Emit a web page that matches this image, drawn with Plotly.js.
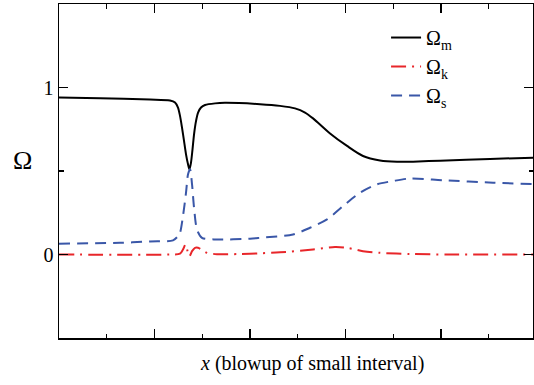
<!DOCTYPE html>
<html>
<head>
<meta charset="utf-8">
<script src="https://cdn.plot.ly/plotly-3.0.1.min.js"></script>
<style>
html,body{margin:0;padding:0;background:#fff;}
#chart{width:534px;height:385px;}
#chart text, #chart tspan { font-family: "Liberation Serif", "DejaVu Serif", serif !important; }
</style>
</head>
<body>
<div id="chart"></div>
<script>
// x in units of major tick spacing
const xM = [0, 0.43, 0.953, 1.162, 1.215, 1.246, 1.267, 1.288, 1.309, 1.330, 1.351, 1.366, 1.382, 1.398, 1.414, 1.435, 1.456, 1.487, 1.529, 1.634, 1.738, 2.105, 2.314, 2.471, 2.576, 2.660, 2.838, 3.016, 3.183, 3.361, 3.539, 3.707, 3.990, 4.513, 4.963];
const omegaM = [0.94, 0.935, 0.928, 0.922, 0.91, 0.88, 0.83, 0.76, 0.68, 0.60, 0.54, 0.51, 0.55, 0.63, 0.72, 0.80, 0.85, 0.88, 0.895, 0.905, 0.908, 0.90, 0.89, 0.875, 0.85, 0.815, 0.725, 0.65, 0.59, 0.563, 0.555, 0.556, 0.562, 0.572, 0.58];

const xS = [0, 0.639, 0.953, 1.194, 1.246, 1.267, 1.298, 1.330, 1.351, 1.372, 1.393, 1.414, 1.445, 1.497, 1.654, 2.000, 2.105, 2.450, 2.628, 2.806, 2.974, 3.152, 3.330, 3.497, 3.675, 4.021, 4.545, 4.963];
const omegaS = [0.065, 0.07, 0.078, 0.085, 0.11, 0.13, 0.23, 0.37, 0.48, 0.51, 0.42, 0.28, 0.15, 0.10, 0.09, 0.095, 0.10, 0.12, 0.16, 0.21, 0.29, 0.37, 0.42, 0.44, 0.455, 0.445, 0.43, 0.422];

const xK = [0, 1.162, 1.267, 1.298, 1.325, 1.346, 1.366, 1.393, 1.424, 1.456, 1.497, 1.550, 1.654, 1.895, 2.105, 2.314, 2.660, 2.890, 3.016, 3.183, 3.361, 3.675, 4.094, 4.963];
const omegaK = [0, 0, 0.005, 0.03, 0.06, 0.02, -0.01, 0.02, 0.04, 0.04, 0.028, 0.01, 0.002, 0.003, 0.007, 0.013, 0.03, 0.045, 0.04, 0.02, 0.01, 0.003, 0, 0];

const names = ['Ω<sub>m</sub>', 'Ω<sub>k</sub>', 'Ω<sub>s</sub>'];
const yTickVals = [0, 1];
const yTickText = ['0', '1'];

const serif = 'Liberation Serif';

const traces = [
  {x: xM, y: omegaM, name: names[0], mode: 'lines', line: {color: '#000000', width: 2, shape: 'spline', smoothing: 0.8}},
  {x: xK, y: omegaK, name: names[1], mode: 'lines', line: {color: '#e8262a', width: 2, dash: '15px,6px,2px,6px', shape: 'spline', smoothing: 0.8}},
  {x: xS, y: omegaS, name: names[2], mode: 'lines', line: {color: '#3a57a8', width: 2, dash: '11px,7px', shape: 'spline', smoothing: 0.8}}
];

const axisCommon = {
  showgrid: false, zeroline: false, showline: true, linecolor: '#000', linewidth: 1.5,
  mirror: 'ticks', ticks: 'inside', tickcolor: '#000', tickwidth: 1.2, ticklen: 9
};

const layout = {
  width: 534, height: 385,
  margin: {l: 59, r: 1, t: 4, b: 47},
  paper_bgcolor: '#fff', plot_bgcolor: '#fff',
  font: {family: serif, color: '#000', size: 20},
  showlegend: true,
  legend: {x: 0.69, xanchor: 'left', y: 0.958, yanchor: 'top', bgcolor: 'rgba(0,0,0,0)', font: {family: serif, size: 20}},
  xaxis: Object.assign({}, axisCommon, {
    range: [0, 4.963], dtick: 1, tick0: 0, showticklabels: false,
    minor: {dtick: 0.5, ticks: 'inside', ticklen: 4.5, tickcolor: '#000', tickwidth: 1.2}
  }),
  yaxis: Object.assign({}, axisCommon, {
    range: [-0.5, 1.5], tickmode: 'array', tickvals: yTickVals, ticktext: yTickText,
    tickfont: {family: serif, size: 20},
    minor: {dtick: 0.5, ticks: 'inside', ticklen: 4.5, tickcolor: '#000', tickwidth: 1.2}
  }),
  annotations: [
    {text: '<i>x</i> (blowup of small interval)', xref: 'paper', yref: 'paper', x: 0.534, y: 0, xanchor: 'center', yanchor: 'top', yshift: -12, showarrow: false, font: {family: serif, size: 20}},
    {text: 'Ω', xref: 'paper', yref: 'paper', x: 0, y: 0.53, xanchor: 'center', yanchor: 'middle', xshift: -37, showarrow: false, font: {family: serif, size: 26}}
  ]
};

Plotly.newPlot('chart', traces, layout, {displayModeBar: false, staticPlot: true});
</script>
</body>
</html>
